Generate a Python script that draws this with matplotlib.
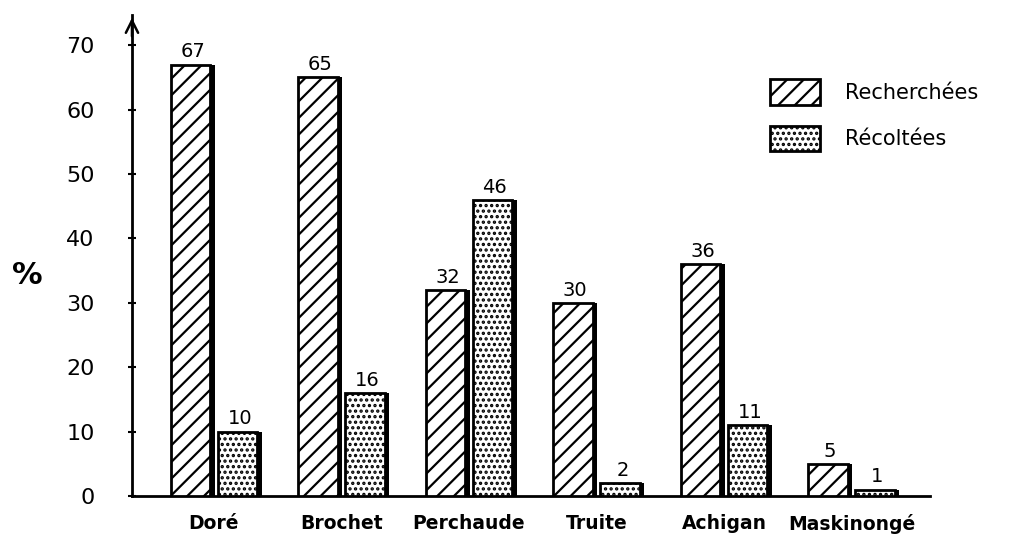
import matplotlib.pyplot as plt
from matplotlib.patches import Patch
import numpy as np

categories = ['Doré', 'Brochet', 'Perchaude', 'Truite', 'Achigan', 'Maskinongé']
recherchees = [67, 65, 32, 30, 36, 5]
recoltees = [10, 16, 46, 2, 11, 1]
yticks = [0, 10, 20, 30, 40, 50, 60, 70]

plt.rcParams['hatch.linewidth'] = 1.6
plt.rcParams['font.family'] = 'DejaVu Sans'

fig = plt.figure(figsize=(10.09, 5.4), dpi=100)
ax = fig.add_axes([0.1308, 0.0815, 0.791, 0.8907])

x = np.arange(len(categories))
w = 0.31
off = 0.185
shadow = 0.035

for xs, vals, hatch in [(x - off, recherchees, '//'), (x + off, recoltees, '...')]:
    # black copy shifted right gives the drop shadow
    ax.bar(xs + shadow, vals, w, color='black', zorder=2)
    ax.bar(xs, vals, w, facecolor='white', edgecolor='black', hatch=hatch,
           linewidth=2, zorder=3)
    for xi, v in zip(xs, vals):
        ax.text(xi + shadow / 2, v + 0.5, str(v), ha='center', va='bottom',
                fontsize=14)

ax.set_xlim(-0.643, 5.616)
ax.set_ylim(0, 74.7)
ax.set_yticks(yticks)
ax.set_xticks(x)
ax.set_xticklabels(categories, fontsize=13.5, fontweight='bold')
ax.tick_params(axis='x', length=0, pad=13)
ax.tick_params(axis='y', direction='inout', length=6, width=1.5, labelsize=16, pad=24)

for s in ['top', 'right']:
    ax.spines[s].set_visible(False)
ax.spines['left'].set_linewidth(2)
ax.spines['bottom'].set_linewidth(2)
ax.annotate('', xy=(0, 1.0), xytext=(0, 0.95), xycoords='axes fraction',
            arrowprops=dict(arrowstyle='->', lw=1.8, mutation_scale=22))

fig.text(0.027, 0.49, '%', fontsize=22, fontweight='bold', ha='center', va='center')

handles = [Patch(facecolor='white', edgecolor='black', hatch='//', linewidth=2),
           Patch(facecolor='white', edgecolor='black', hatch='...', linewidth=2)]
ax.legend(handles, ['Recherchées', 'Récoltées'], loc='upper left',
          bbox_to_anchor=(0.776, 0.905), frameon=False, fontsize=15,
          handlelength=2.4, handleheight=1.5, labelspacing=1.0, handletextpad=1.2)

fig.savefig('out.png', dpi=100)
